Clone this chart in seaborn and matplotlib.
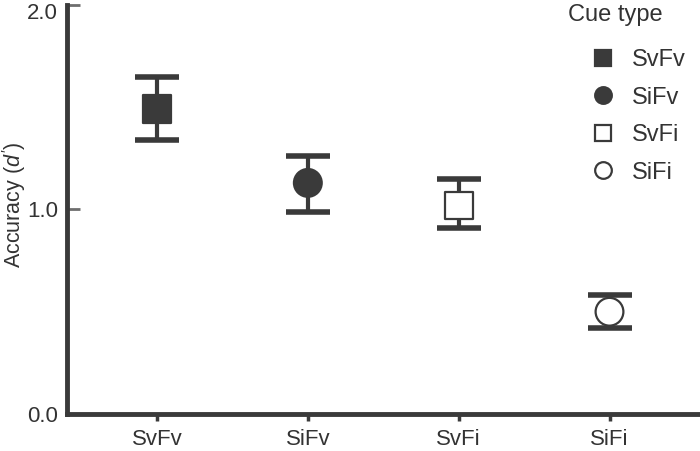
import numpy as np
import pandas as pd
import seaborn as sns
import matplotlib.pyplot as plt
import matplotlib.transforms as mtransforms
from matplotlib.lines import Line2D

# values
cues = ['SvFv', 'SiFv', 'SvFi', 'SiFi']
accuracy = [1.49, 1.13, 1.02, 0.50]
err_low = [1.34, 0.99, 0.91, 0.42]
err_high = [1.65, 1.26, 1.15, 0.58]

data = pd.DataFrame({'cue': cues, 'acc': accuracy, 'low': err_low, 'high': err_high})

dark = '#3a3a3a'
markers = {'SvFv': 's', 'SiFv': 'o', 'SvFi': 's', 'SiFi': 'o'}
faces = {'SvFv': dark, 'SiFv': dark, 'SvFi': 'white', 'SiFi': 'white'}

sns.set_style('ticks')
plt.rcParams['font.family'] = ['Liberation Sans', 'DejaVu Sans']
plt.rcParams['mathtext.fontset'] = 'custom'
plt.rcParams['mathtext.it'] = 'Liberation Sans:italic'
plt.rcParams['mathtext.rm'] = 'Liberation Sans'

fig = plt.figure(figsize=(7, 4.51), dpi=100)
ax = fig.add_axes([0.095, 0.082, 0.905, 0.907])

# error bars first so the markers sit on top
ax.errorbar(data['cue'], data['acc'],
            yerr=[data['acc'] - data['low'], data['high'] - data['acc']],
            fmt='none', ecolor=dark, elinewidth=3, capsize=16, capthick=4, zorder=2)

sns.scatterplot(data=data, x='cue', y='acc', hue='cue', style='cue',
                markers=markers, palette=faces, s=400, edgecolor=dark,
                linewidth=1.6, legend=False, zorder=3, ax=ax)

ax.set_xlim(-0.6, 3.6)
ax.set_ylim(0, 2)
ax.set_yticks([0, 1, 2])
ax.set_yticklabels(['0.0', '1.0', '2.0'])
ax.set_xlabel('')
ax.set_ylabel("Accuracy ($d'$)", fontsize=15.5, color='#333333')
ax.yaxis.set_label_coords(-0.061, 0.512)

sns.despine(ax=ax)
for side in ['left', 'bottom']:
    ax.spines[side].set_linewidth(3.5)
    ax.spines[side].set_color(dark)
ax.tick_params(axis='y', direction='in', length=9.5, width=2, color='#6e6e6e',
               labelsize=16, labelcolor='#333333', pad=6)
ax.tick_params(axis='x', direction='out', length=5, width=2.5, color=dark,
               labelsize=16, labelcolor='#333333', pad=6)

# top label sits a little lower so it stays inside the figure
top_label = ax.get_yticklabels()[-1]
top_label.set_transform(top_label.get_transform() +
                        mtransforms.ScaledTranslation(0, -4 / 72, fig.dpi_scale_trans))

handles = [Line2D([], [], ls='none', marker=markers[c], markersize=12,
                  markerfacecolor=faces[c], markeredgecolor=dark, markeredgewidth=1.6)
           for c in cues]
leg = ax.legend(handles, cues, frameon=False, loc='upper left',
                bbox_to_anchor=(591 / 700, 1 - 49 / 451), bbox_transform=fig.transFigure,
                fontsize=17, labelspacing=0.66, handlelength=1.0, handletextpad=0.75,
                borderaxespad=0, borderpad=0)
for t in leg.get_texts():
    t.set_color('#333333')
fig.text(615 / 700, 1 - 15 / 451, 'Cue type', fontsize=17, color='#333333',
         ha='center', va='center')

fig.savefig('out.png', dpi=100)
